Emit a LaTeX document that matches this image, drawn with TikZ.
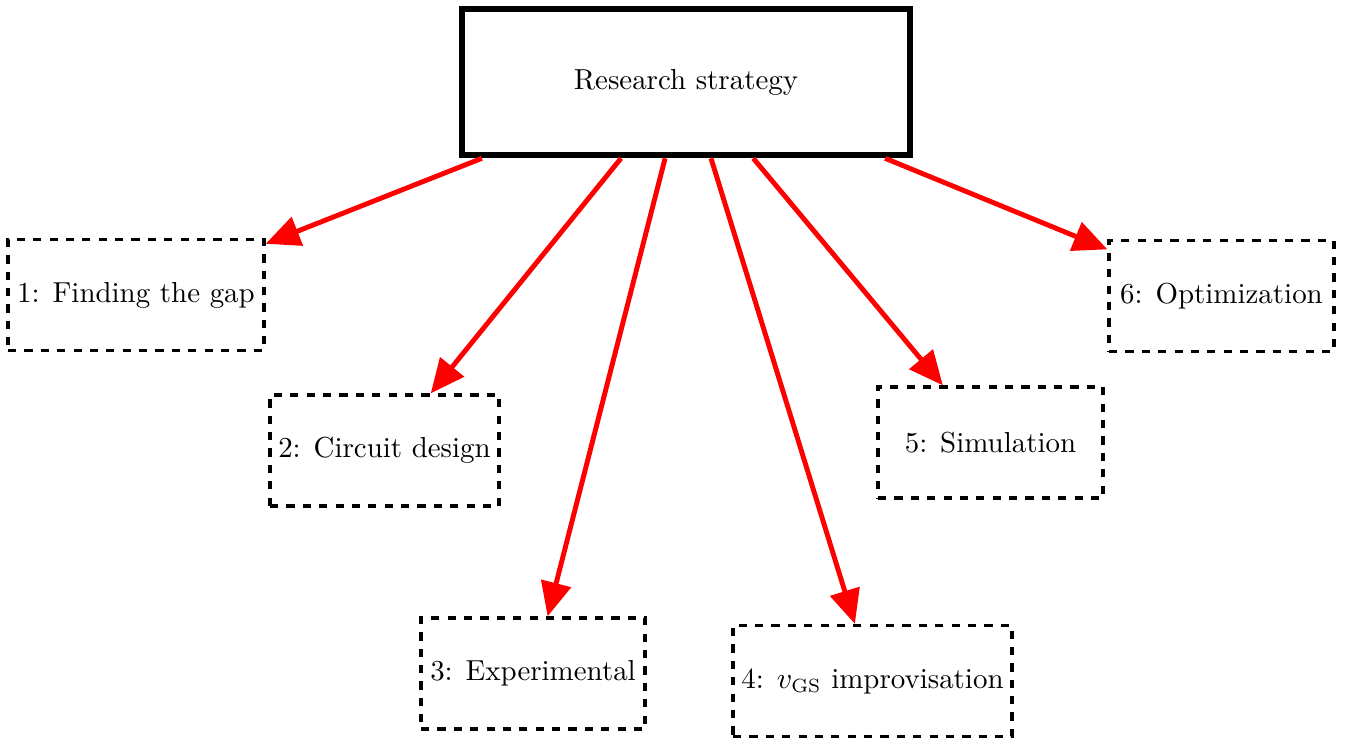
\documentclass[tikz,border=0pt]{standalone}
\usetikzlibrary{arrows.meta,calc}
\begin{document}
\begin{tikzpicture}[x=0.3663pt,y=-0.3663pt,
  every node/.style={font=\fontsize{10.6pt}{13pt}\selectfont},
  mainbox/.style={draw,line width=2.4pt,minimum width={448*0.3663pt},minimum height={146*0.3663pt},inner sep=0pt},
  stepbox/.style={draw,dashed,line width=1.2pt,inner sep=1pt,minimum height={111*0.3663pt}},
  link/.style={draw=red,line width=1.8pt,-{Triangle[length=12.5pt,width=11pt]}}]
\useasboundingbox (0,0) rectangle (1346,739);
\node[mainbox] (main) at (686,82) {Research strategy};
\node[stepbox,minimum width={256*0.3663pt}] (b1) at (136,295) {1: Finding the gap};
\node[stepbox,minimum width={229*0.3663pt}] (b2) at (384.5,450.5) {2: Circuit design};
\node[stepbox,minimum width={224*0.3663pt}] (b3) at (533,673.5) {3: Experimental};
\node[stepbox,minimum width={279*0.3663pt}] (b4) at (872.5,681) {4: $v_{\mathrm{GS}}$ improvisation};
\node[stepbox,minimum width={225*0.3663pt}] (b5) at (990.5,442.5) {5: Simulation};
\node[stepbox,minimum width={225*0.3663pt}] (b6) at (1221.5,296) {6: Optimization};
\coordinate (s1) at ($(main.south west)!0.051!(main.south east)$);
\coordinate (s2) at ($(main.south west)!0.357!(main.south east)$);
\coordinate (s3) at ($(main.south west)!0.454!(main.south east)$);
\coordinate (s4) at ($(main.south west)!0.555!(main.south east)$);
\coordinate (s5) at ($(main.south west)!0.648!(main.south east)$);
\coordinate (s6) at ($(main.south west)!0.938!(main.south east)$);
\draw[link] (s1) -- (b1);
\draw[link] (s2) -- (b2);
\draw[link] (s3) -- (b3);
\draw[link] (s4) -- (b4);
\draw[link] (s5) -- (b5);
\draw[link] (s6) -- (b6);
\end{tikzpicture}
\end{document}
